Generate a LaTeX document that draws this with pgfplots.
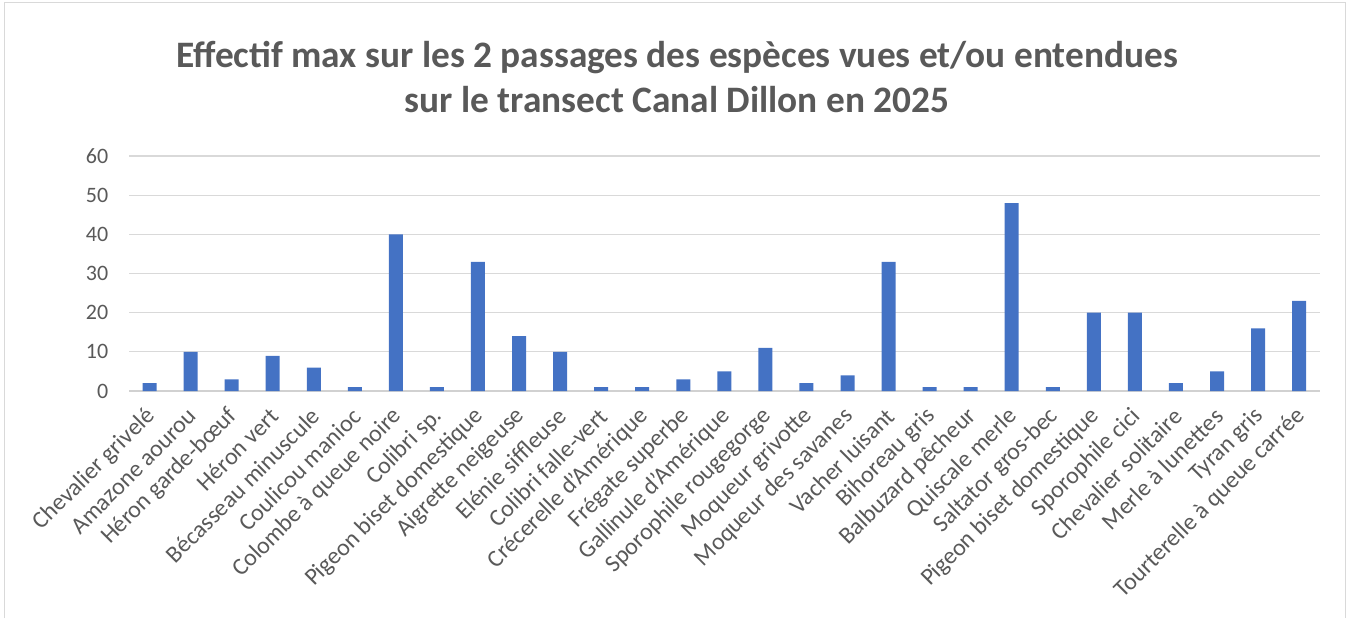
\documentclass[border=0pt]{standalone}
\usepackage{pgfplots}
\pgfplotsset{compat=1.18}
\usepackage{fontspec}
\setmainfont{Carlito}
\definecolor{barblue}{HTML}{4472C4}
\definecolor{txtgray}{HTML}{595959}
\definecolor{gridgray}{HTML}{D9D9D9}
\begin{document}
\begin{tikzpicture}[x=0.75pt,y=0.75pt]
\path (0,0) rectangle (1354,-618);
\draw[gridgray, line width=0.75pt] (4,-618) -- (4,-3) -- (1345,-3) -- (1345,-618);
\node[font=\fontsize{28}{34}\selectfont\bfseries, text=txtgray, align=center] at (677,-77) {Effectif max sur les 2 passages des espèces vues et/ou entendues\\sur le transect Canal Dillon en 2025};
\begin{axis}[
  at={(129pt*0.75,-391pt*0.75)}, anchor=south west,
  scale only axis, width=893pt, height=176.25pt,
  ymin=0, ymax=60, ytick={0,10,...,60},
  xmin=-0.5, xmax=28.5,
  ybar, bar width=10.5pt,
  axis line style={draw=none},
  ymajorgrids, grid style={gridgray, line width=0.9pt},
  major tick length=0pt,
  xtick=data,
  xticklabels={Chevalier grivelé, Amazone aourou, Héron garde-bœuf, Héron vert, Bécasseau minuscule, Coulicou manioc, Colombe à queue noire, Colibri sp., Pigeon biset domestique, Aigrette neigeuse, Elénie siffleuse, Colibri falle-vert, Crécerelle d'Amérique, Frégate superbe, Gallinule d'Amérique, Sporophile rougegorge, Moqueur grivotte, Moqueur des savanes, Vacher luisant, Bihoreau gris, Balbuzard pêcheur, Quiscale merle, Saltator gros-bec, Pigeon biset domestique, Sporophile cici, Chevalier solitaire, Merle à lunettes, Tyran gris, Tourterelle à queue carrée},
  xticklabel style={xshift=1.5pt, yshift=-16pt, rotate=45, anchor=east, font=\fontsize{18}{20}\selectfont, text=txtgray, inner sep=0pt},
  yticklabel style={font=\fontsize{16.5}{18}\selectfont, text=txtgray, xshift=-12pt},
  /pgf/number format/assume math mode=true,
  extra y ticks={0}, extra y tick labels={},
  extra y tick style={grid style={draw=gridgray!120, line width=1pt}},
  clip=false,
]
\addplot[fill=barblue, draw=none, bar shift=0pt] coordinates {
(0,2) (1,10) (2,3) (3,9) (4,6) (5,1) (6,40) (7,1) (8,33) (9,14)
(10,10) (11,1) (12,1) (13,3) (14,5) (15,11) (16,2) (17,4) (18,33) (19,1)
(20,1) (21,48) (22,1) (23,20) (24,20) (25,2) (26,5) (27,16) (28,23)
};
\end{axis}
\end{tikzpicture}
\end{document}
